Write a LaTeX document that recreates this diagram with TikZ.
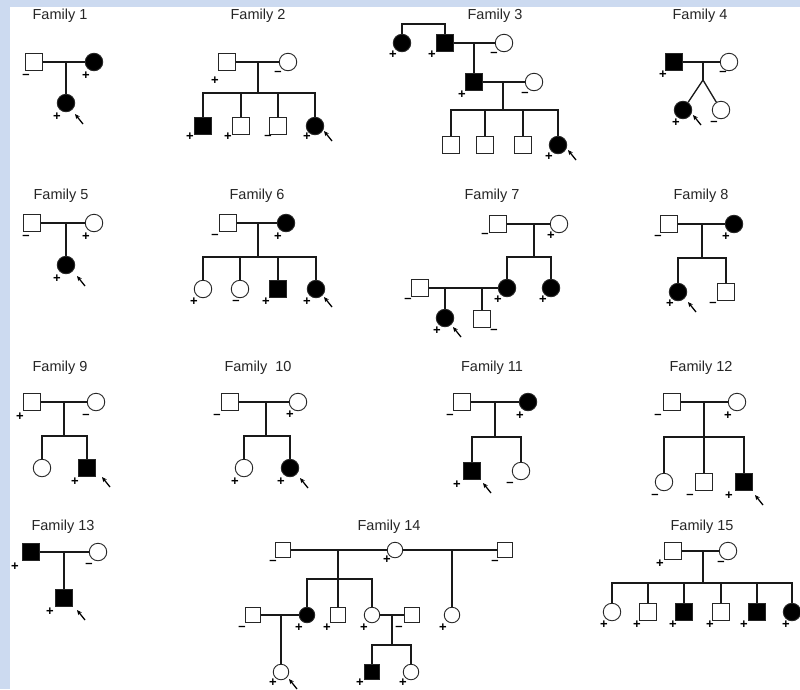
\documentclass[tikz,border=0pt]{standalone}
\usepackage{fontspec}
\setmainfont{Liberation Sans}
\usetikzlibrary{arrows.meta}
\definecolor{bgblue}{RGB}{204,218,240}
\newcounter{sgc}
\newcommand\sg[3]{\stepcounter{sgc}\node[sgn] (sg\arabic{sgc}) at (#1,#2) {#3};}
\newcounter{pbc}
\newcommand\prb[2]{\stepcounter{pbc}\coordinate (pt\arabic{pbc}) at (#1+4,#2+5);\coordinate (ph\arabic{pbc}) at (#1-4,#2-5);\draw[prob] (pt\arabic{pbc}) -- (ph\arabic{pbc});}
\tikzset{
 ml/.style={draw=black!85, rectangle, minimum size=17pt, inner sep=0pt, line width=0.9pt, fill=white},
 fe/.style={draw=black!85, circle, minimum size=17.5pt, inner sep=0pt, line width=0.9pt, fill=white},
 aff/.style={fill=black},
 sm/.style={minimum size=15.5pt},
 ln/.style={line width=1.3pt, draw=black!90},
 sgn/.style={font=\bfseries\fontsize{13}{13}\selectfont, inner sep=0pt},
 ttl/.style={font=\fontsize{14.5}{14.5}\selectfont, inner sep=0pt, text=black!85},
 prob/.style={-{Stealth[length=5pt,width=4.5pt]}, line width=1.3pt}
}
\begin{document}
\begin{tikzpicture}[x=1pt,y=-1pt]
\fill[bgblue] (0,0) rectangle (800,689);
\fill[white] (10,7) rectangle (800,689);
\useasboundingbox (0,0) rectangle (800,689);

% ---------- Family 1
\node[ttl] (t1) at (60,16) {Family 1};
\node[ml] (p1a) at (34,62) {};
\node[fe,aff] (p1b) at (94,62) {};
\coordinate (j1) at (66,62);
\node[fe,aff] (p1c) at (66,103) {};
\draw[ln] (p1a) -- (p1b);
\draw[ln] (j1) -- (p1c);
\sg{26}{76}{–}\sg{86}{76}{+}\sg{57}{117}{+}
\prb{79}{119}

% ---------- Family 2
\node[ttl] (t2) at (258,16) {Family 2};
\node[ml] (p2a) at (227,62) {};
\node[fe] (p2b) at (288,62) {};
\coordinate (j2) at (258,62);
\coordinate (s2) at (258,93);
\node[ml,aff] (p2c) at (203,126) {};
\node[ml] (p2d) at (241,126) {};
\node[ml] (p2e) at (278,126) {};
\node[fe,aff] (p2f) at (315,126) {};
\draw[ln] (p2a) -- (p2b);
\draw[ln] (j2) -- (s2);
\draw[ln] (p2c) -- (p2c |- s2) -- (p2f |- s2) -- (p2f);
\draw[ln] (p2d) -- (p2d |- s2);
\draw[ln] (p2e) -- (p2e |- s2);
\sg{215}{81}{+}\sg{278}{73}{–}
\sg{190}{137}{+}\sg{228}{137}{+}\sg{268}{137}{–}\sg{307}{137}{+}
\prb{328}{136}

% ---------- Family 3
\node[ttl] (t3) at (495,16) {Family 3};
\node[fe,aff] (p3a) at (402,43) {};
\node[ml,aff] (p3b) at (445,43) {};
\node[fe] (p3c) at (504,43) {};
\coordinate (s3a) at (420,24);
\draw[ln] (p3a) -- (p3a |- s3a) -- (p3b |- s3a) -- (p3b);
\draw[ln] (p3b) -- (p3c);
\coordinate (j3a) at (474,43);
\node[ml,aff] (p3d) at (474,82) {};
\draw[ln] (j3a) -- (p3d);
\node[fe] (p3e) at (534,82) {};
\draw[ln] (p3d) -- (p3e);
\coordinate (j3b) at (503,82);
\coordinate (s3b) at (503,110);
\draw[ln] (j3b) -- (s3b);
\node[ml] (p3f) at (451,145) {};
\node[ml] (p3g) at (485,145) {};
\node[ml] (p3h) at (523,145) {};
\node[fe,aff] (p3i) at (558,145) {};
\draw[ln] (p3f) -- (p3f |- s3b) -- (p3i |- s3b) -- (p3i);
\draw[ln] (p3g) -- (p3g |- s3b);
\draw[ln] (p3h) -- (p3h |- s3b);
\sg{393}{55}{+}\sg{432}{55}{+}\sg{494}{54}{–}
\sg{462}{95}{+}\sg{525}{94}{–}\sg{549}{157}{+}
\prb{572}{155}

% ---------- Family 4
\node[ttl] (t4) at (700,16) {Family 4};
\node[ml,aff] (p4a) at (674,62) {};
\node[fe] (p4b) at (729,62) {};
\coordinate (j4) at (703,62);
\coordinate (w4) at (703,80);
\node[fe,aff] (p4c) at (683,110) {};
\node[fe] (p4d) at (721,110) {};
\draw[ln] (p4a) -- (p4b);
\draw[ln] (j4) -- (w4);
\draw[ln] (w4) -- (p4c);
\draw[ln] (w4) -- (p4d);
\sg{663}{75}{+}\sg{723}{73}{–}\sg{676}{123}{+}\sg{714}{123}{–}
\prb{697}{120}

% ---------- Family 5
\node[ttl] (t5) at (61,196) {Family 5};
\node[ml] (p5a) at (32,223) {};
\node[fe] (p5b) at (94,223) {};
\coordinate (j5) at (66,223);
\node[fe,aff] (p5c) at (66,265) {};
\draw[ln] (p5a) -- (p5b);
\draw[ln] (j5) -- (p5c);
\sg{26}{237}{–}\sg{86}{237}{+}\sg{57}{279}{+}
\prb{81}{281}

% ---------- Family 6
\node[ttl] (t6) at (257,196) {Family 6};
\node[ml] (p6a) at (228,223) {};
\node[fe,aff] (p6b) at (286,223) {};
\coordinate (j6) at (258,223);
\coordinate (s6) at (258,257);
\node[fe] (p6c) at (203,289) {};
\node[fe] (p6d) at (240,289) {};
\node[ml,aff] (p6e) at (278,289) {};
\node[fe,aff] (p6f) at (316,289) {};
\draw[ln] (p6a) -- (p6b);
\draw[ln] (j6) -- (s6);
\draw[ln] (p6c) -- (p6c |- s6) -- (p6f |- s6) -- (p6f);
\draw[ln] (p6d) -- (p6d |- s6);
\draw[ln] (p6e) -- (p6e |- s6);
\sg{215}{236}{–}\sg{278}{237}{+}
\sg{194}{302}{+}\sg{236}{302}{–}\sg{266}{302}{+}\sg{307}{302}{+}
\prb{328}{302}

% ---------- Family 7
\node[ttl] (t7) at (492,196) {Family 7};
\node[ml] (p7a) at (498,224) {};
\node[fe] (p7b) at (559,224) {};
\coordinate (j7) at (534,224);
\coordinate (s7) at (534,257);
\node[fe,aff] (p7c) at (507,288) {};
\node[fe,aff] (p7d) at (551,288) {};
\draw[ln] (p7a) -- (p7b);
\draw[ln] (j7) -- (s7);
\draw[ln] (p7c) -- (p7c |- s7) -- (p7d |- s7) -- (p7d);
\node[ml] (p7e) at (420,288) {};
\draw[ln] (p7e) -- (p7c);
\coordinate (j7b) at (445,288);
\coordinate (j7c) at (482,288);
\node[fe,aff] (p7f) at (445,318) {};
\node[ml] (p7g) at (482,319) {};
\draw[ln] (j7b) -- (p7f);
\draw[ln] (j7c) -- (p7g);
\sg{485}{235}{–}\sg{551}{236}{+}
\sg{498}{300}{+}\sg{543}{300}{+}\sg{408}{300}{–}
\sg{437}{331}{+}\sg{494}{331}{–}
\prb{457}{332}

% ---------- Family 8
\node[ttl] (t8) at (701,196) {Family 8};
\node[ml] (p8a) at (669,224) {};
\node[fe,aff] (p8b) at (734,224) {};
\coordinate (j8) at (702,224);
\coordinate (s8) at (702,258);
\node[fe,aff] (p8c) at (678,292) {};
\node[ml] (p8d) at (726,292) {};
\draw[ln] (p8a) -- (p8b);
\draw[ln] (j8) -- (s8);
\draw[ln] (p8c) -- (p8c |- s8) -- (p8d |- s8) -- (p8d);
\sg{658}{237}{–}\sg{726}{237}{+}\sg{670}{304}{+}\sg{713}{304}{–}
\prb{692}{307}

% ---------- Family 9
\node[ttl] (t9) at (60,368) {Family 9};
\node[ml] (p9a) at (32,402) {};
\node[fe] (p9b) at (96,402) {};
\coordinate (j9) at (64,402);
\coordinate (s9) at (64,436);
\node[fe] (p9c) at (42,468) {};
\node[ml,aff] (p9d) at (87,468) {};
\draw[ln] (p9a) -- (p9b);
\draw[ln] (j9) -- (s9);
\draw[ln] (p9c) -- (p9c |- s9) -- (p9d |- s9) -- (p9d);
\sg{20}{417}{+}\sg{86}{416}{–}\sg{75}{482}{+}
\prb{106}{482}

% ---------- Family 10
\node[ttl] (t10) at (258,368) {Family\ \ 10};
\node[ml] (p10a) at (230,402) {};
\node[fe] (p10b) at (298,402) {};
\coordinate (j10) at (266,402);
\coordinate (s10) at (266,436);
\node[fe] (p10c) at (244,468) {};
\node[fe,aff] (p10d) at (290,468) {};
\draw[ln] (p10a) -- (p10b);
\draw[ln] (j10) -- (s10);
\draw[ln] (p10c) -- (p10c |- s10) -- (p10d |- s10) -- (p10d);
\sg{217}{416}{–}\sg{290}{415}{+}\sg{235}{482}{+}\sg{281}{482}{+}
\prb{304}{483}

% ---------- Family 11
\node[ttl] (t11) at (492,368) {Family 11};
\node[ml] (p11a) at (462,402) {};
\node[fe,aff] (p11b) at (528,402) {};
\coordinate (j11) at (495,402);
\coordinate (s11) at (495,437);
\node[ml,aff] (p11c) at (472,471) {};
\node[fe] (p11d) at (521,471) {};
\draw[ln] (p11a) -- (p11b);
\draw[ln] (j11) -- (s11);
\draw[ln] (p11c) -- (p11c |- s11) -- (p11d |- s11) -- (p11d);
\sg{450}{416}{–}\sg{520}{416}{+}\sg{457}{485}{+}\sg{510}{484}{–}
\prb{487}{488}

% ---------- Family 12
\node[ttl] (t12) at (701,368) {Family 12};
\node[ml] (p12a) at (672,402) {};
\node[fe] (p12b) at (737,402) {};
\coordinate (j12) at (704,402);
\coordinate (s12) at (704,437);
\node[fe] (p12c) at (664,482) {};
\node[ml] (p12d) at (704,482) {};
\node[ml,aff] (p12e) at (744,482) {};
\draw[ln] (p12a) -- (p12b);
\draw[ln] (j12) -- (p12d);
\draw[ln] (p12c) -- (p12c |- s12) -- (p12e |- s12) -- (p12e);
\sg{658}{416}{–}\sg{728}{416}{+}\sg{655}{496}{–}\sg{690}{496}{–}\sg{729}{496}{+}
\prb{759}{500}

% ---------- Family 13
\node[ttl] (t13) at (63,527) {Family 13};
\node[ml,aff] (p13a) at (31,552) {};
\node[fe] (p13b) at (98,552) {};
\coordinate (j13) at (64,552);
\node[ml,aff] (p13c) at (64,598) {};
\draw[ln] (p13a) -- (p13b);
\draw[ln] (j13) -- (p13c);
\sg{15}{567}{+}\sg{89}{565}{–}\sg{50}{612}{+}
\prb{81}{615}

% ---------- Family 14
\node[ttl] (t14) at (389,527) {Family 14};
\node[ml,sm] (p14a) at (283,550) {};
\node[fe,sm] (p14b) at (395,550) {};
\node[ml,sm] (p14c) at (505,550) {};
\draw[ln] (p14a) -- (p14b);
\draw[ln] (p14b) -- (p14c);
\coordinate (j14a) at (338,550);
\coordinate (s14a) at (338,579);
\coordinate (j14b) at (452,550);
\node[fe,sm,aff] (p14d) at (307,615) {};
\node[ml,sm] (p14e) at (338,615) {};
\node[fe,sm] (p14f) at (372,615) {};
\node[fe,sm] (p14g) at (452,615) {};
\draw[ln] (j14a) -- (p14e);
\draw[ln] (p14d) -- (p14d |- s14a) -- (p14f |- s14a) -- (p14f);
\draw[ln] (j14b) -- (p14g);
\node[ml,sm] (p14h) at (253,615) {};
\draw[ln] (p14h) -- (p14d);
\coordinate (j14c) at (281,615);
\node[fe,sm] (p14i) at (281,672) {};
\draw[ln] (j14c) -- (p14i);
\node[ml,sm] (p14j) at (412,615) {};
\draw[ln] (p14f) -- (p14j);
\coordinate (j14d) at (392,615);
\coordinate (s14b) at (392,645);
\draw[ln] (j14d) -- (s14b);
\node[ml,sm,aff] (p14k) at (372,672) {};
\node[fe,sm] (p14l) at (411,672) {};
\draw[ln] (p14k) -- (p14k |- s14b) -- (p14l |- s14b) -- (p14l);
\sg{273}{562}{–}\sg{387}{560}{+}\sg{495}{562}{–}
\sg{242}{628}{–}\sg{299}{628}{+}\sg{327}{628}{+}\sg{364}{628}{+}\sg{399}{628}{–}\sg{443}{628}{+}
\sg{273}{683}{+}\sg{360}{683}{+}\sg{403}{683}{+}
\prb{293}{684}

% ---------- Family 15
\node[ttl] (t15) at (702,527) {Family 15};
\node[ml] (p15a) at (673,551) {};
\node[fe] (p15b) at (728,551) {};
\coordinate (j15) at (703,551);
\coordinate (s15) at (703,583);
\node[fe] (p15c) at (612,612) {};
\node[ml] (p15d) at (648,612) {};
\node[ml,aff] (p15e) at (684,612) {};
\node[ml] (p15f) at (721,612) {};
\node[ml,aff] (p15g) at (757,612) {};
\node[fe,aff] (p15h) at (792,612) {};
\draw[ln] (p15a) -- (p15b);
\draw[ln] (j15) -- (s15);
\draw[ln] (p15c) -- (p15c |- s15) -- (p15h |- s15) -- (p15h);
\draw[ln] (p15d) -- (p15d |- s15);
\draw[ln] (p15e) -- (p15e |- s15);
\draw[ln] (p15f) -- (p15f |- s15);
\draw[ln] (p15g) -- (p15g |- s15);
\sg{660}{564}{+}\sg{721}{563}{–}
\sg{604}{625}{+}\sg{637}{625}{+}\sg{673}{625}{+}\sg{710}{625}{+}\sg{744}{625}{+}\sg{786}{625}{+}
\end{tikzpicture}
\end{document}
